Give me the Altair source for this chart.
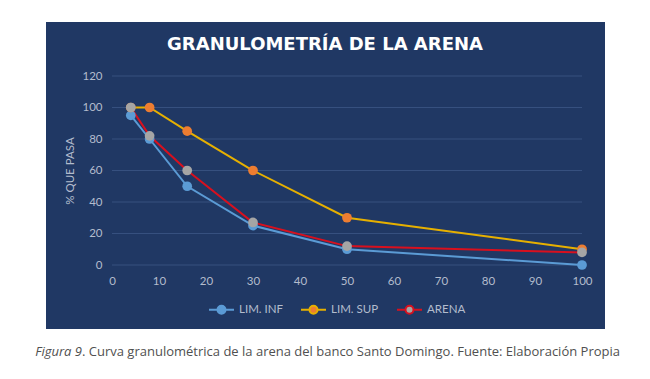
import altair as alt
import pandas as pd

# ---- data ----
tamiz = [4, 8, 16, 30, 50, 100]
lim_inf = [95, 80, 50, 25, 10, 0]
lim_sup = [100, 100, 85, 60, 30, 10]
arena = [100, 82, 60, 27, 12, 8]
series = ["LIM. INF", "LIM. SUP", "ARENA"]
line_colors = ["#5b9bd5", "#e6b000", "#d8101e"]
marker_colors = ["#5b9bd5", "#ed7d31", "#a5a5a5"]
x_ticks = list(range(0, 101, 10))
y_ticks = list(range(0, 121, 20))
title_text = "GRANULOMETRÍA DE LA ARENA"
y_title = "% QUE PASA"
caption_italic = "Figura 9"
caption_rest = ". Curva granulométrica de la arena del banco Santo Domingo. Fuente: Elaboración Propia"

BG = "#203864"
GRID = "#36507f"
LABEL = "#b3bccd"
FONT = "Lato"

rows = []
for s, vals in zip(series, [lim_inf, lim_sup, arena]):
    for xv, yv in zip(tamiz, vals):
        rows.append({"serie": s, "x": xv, "y": yv})
df = pd.DataFrame(rows)
one = pd.DataFrame({"k": [0]})
grid_df = pd.DataFrame({"y": y_ticks})

xs = alt.Scale(domain=[0, 100], nice=False, zero=False)
ys = alt.Scale(domain=[0, 120], nice=False)

x_axis = alt.Axis(values=x_ticks, grid=False, domain=False, ticks=False,
                  labelColor=LABEL, labelFont=FONT, labelFontSize=11.5,
                  labelPadding=10, labelFlush=False, labelOverlap=False,
                  title=None, zindex=1)
y_axis = alt.Axis(values=y_ticks, grid=False, domain=False, ticks=False,
                  labelColor=LABEL, labelFont=FONT, labelFontSize=11.5,
                  labelPadding=10, labelOverlap=False, labelFlush=False,
                  title=y_title, titleColor=LABEL,
                  titleFont=FONT, titleFontSize=11.5, titleFontWeight="normal",
                  titlePadding=6, zindex=1)

sym = "M-1,0H-0.32M0.32,0H1M-0.32,0A0.32,0.32,0,1,0,0.32,0A0.32,0.32,0,1,0,-0.32,0Z"
leg = alt.Legend(
    title=None, orient="none", direction="horizontal", legendX=96, legendY=220,
    symbolType=sym, symbolSize=625, symbolStrokeWidth=2,
    labelColor=LABEL, labelFont=FONT, labelFontSize=11.5, labelOffset=4,
    columnPadding=14,
)

bg = alt.Chart(one).mark_rect(color=BG).encode(
    x=alt.value(-66), x2=alt.value(493), y=alt.value(-54), y2=alt.value(253)
)

grid = alt.Chart(grid_df).mark_rule(color=GRID, strokeWidth=1).encode(
    y=alt.Y("y:Q", scale=ys, axis=y_axis)
)

lines = alt.Chart(df).mark_line(strokeWidth=2).encode(
    x=alt.X("x:Q", scale=xs, axis=x_axis),
    y=alt.Y("y:Q", scale=ys, axis=y_axis),
    stroke=alt.Stroke("serie:N", scale=alt.Scale(domain=series, range=line_colors), legend=leg),
)

points = alt.Chart(df).mark_circle(size=95, opacity=1).encode(
    x=alt.X("x:Q", scale=xs, axis=x_axis),
    y=alt.Y("y:Q", scale=ys, axis=y_axis),
    fill=alt.Fill("serie:N", scale=alt.Scale(domain=series, range=marker_colors), legend=leg),
)

title = alt.Chart(one).mark_text(
    text=title_text, font="DejaVu Sans", fontWeight="bold", fontSize=18, color="white",
    align="center", baseline="middle"
).encode(x=alt.value(213), y=alt.value(-31))

cap1 = alt.Chart(one).mark_text(
    text=caption_italic, font="Open Sans", fontStyle="italic", fontSize=13, color="#505050",
    align="right", baseline="middle"
).encode(x=alt.value(-30), y=alt.value(276))

cap2 = alt.Chart(one).mark_text(
    text=caption_rest, font="Open Sans", fontSize=13, color="#505050",
    align="left", baseline="middle"
).encode(x=alt.value(-30), y=alt.value(276))

chart = alt.layer(bg, grid, lines, points, title, cap1, cap2).properties(
    width=470, height=189,
    autosize=alt.AutoSizeParams(type="none"),
    padding={"left": 104, "top": 68, "right": 60, "bottom": 114},
).configure_view(stroke=None).configure(background="white")

chart.save("out.html", embed_options={"renderer": "svg", "actions": False})
